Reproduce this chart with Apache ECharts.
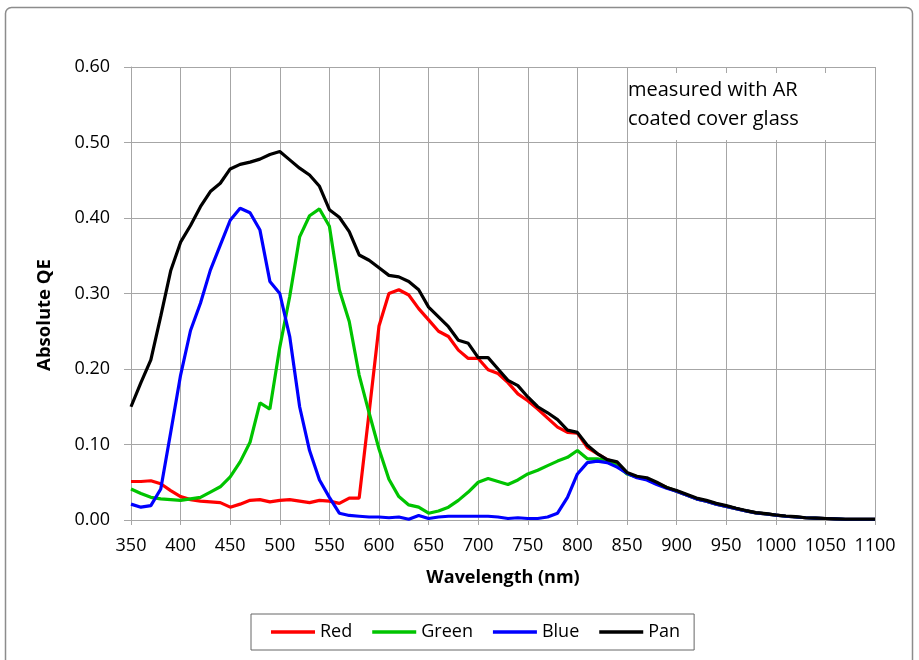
<!DOCTYPE html>
<html>
<head>
<meta charset="utf-8">
<script src="https://cdn.jsdelivr.net/npm/echarts@6/dist/echarts.min.js"></script>
<style>
  html, body { margin: 0; padding: 0; background: #fff; }
  #chart { width: 919px; height: 660px; }
</style>
</head>
<body>
<div id="chart"></div>
<script>
// wavelength in nm, 10 nm steps
const wavelengths = [];
for (let w = 350; w <= 1100; w += 10) wavelengths.push(w);

const red = [
  0.051, 0.051, 0.052, 0.048, 0.039, 0.031, 0.027, 0.025, 0.024, 0.023,
  0.017, 0.021, 0.026, 0.027, 0.024, 0.026, 0.027, 0.025, 0.023, 0.026,
  0.025, 0.022, 0.029, 0.029, 0.142, 0.257, 0.300, 0.305, 0.298, 0.280,
  0.265, 0.250, 0.243, 0.225, 0.214, 0.214, 0.199, 0.194, 0.182, 0.167,
  0.158, 0.147, 0.135, 0.123, 0.116, 0.115, 0.096, 0.088, 0.080, 0.075,
  0.062, 0.057, 0.054, 0.049, 0.043, 0.038, 0.033, 0.028, 0.025, 0.021,
  0.018, 0.015, 0.012, 0.0095, 0.008, 0.0065, 0.005, 0.004, 0.003, 0.0025,
  0.002, 0.0015, 0.001, 0.001, 0.001, 0.001
];
const green = [
  0.041, 0.035, 0.030, 0.028, 0.027, 0.026, 0.028, 0.030, 0.037, 0.044,
  0.057, 0.077, 0.103, 0.155, 0.147, 0.229, 0.296, 0.375, 0.403, 0.412,
  0.389, 0.305, 0.263, 0.192, 0.142, 0.094, 0.054, 0.031, 0.020, 0.017,
  0.009, 0.012, 0.017, 0.026, 0.037, 0.050, 0.055, 0.051, 0.047, 0.053,
  0.061, 0.066, 0.072, 0.078, 0.083, 0.092, 0.081, 0.081, 0.079, 0.072,
  0.061, 0.057, 0.054, 0.048, 0.043, 0.038, 0.033, 0.028, 0.025, 0.021,
  0.018, 0.015, 0.012, 0.0095, 0.008, 0.0065, 0.005, 0.004, 0.003, 0.0025,
  0.002, 0.0015, 0.001, 0.001, 0.001, 0.001
];
const blue = [
  0.021, 0.017, 0.019, 0.041, 0.116, 0.192, 0.251, 0.287, 0.331, 0.364,
  0.397, 0.413, 0.407, 0.384, 0.316, 0.300, 0.243, 0.150, 0.092, 0.053,
  0.030, 0.009, 0.006, 0.005, 0.004, 0.004, 0.003, 0.004, 0.001, 0.006,
  0.002, 0.004, 0.005, 0.005, 0.005, 0.005, 0.005, 0.004, 0.002, 0.003,
  0.002, 0.002, 0.004, 0.009, 0.030, 0.061, 0.076, 0.078, 0.076, 0.070,
  0.062, 0.056, 0.053, 0.047, 0.042, 0.038, 0.033, 0.028, 0.025, 0.021,
  0.018, 0.015, 0.012, 0.0095, 0.008, 0.0065, 0.005, 0.004, 0.003, 0.0025,
  0.002, 0.0015, 0.001, 0.001, 0.001, 0.001
];
const pan = [
  0.150, 0.182, 0.212, 0.270, 0.330, 0.368, 0.390, 0.415, 0.435, 0.446,
  0.465, 0.471, 0.474, 0.478, 0.484, 0.488, 0.477, 0.466, 0.457, 0.442,
  0.411, 0.401, 0.382, 0.351, 0.344, 0.334, 0.324, 0.322, 0.316, 0.305,
  0.282, 0.269, 0.256, 0.238, 0.234, 0.215, 0.215, 0.200, 0.185, 0.178,
  0.163, 0.150, 0.142, 0.133, 0.119, 0.116, 0.099, 0.088, 0.080, 0.077,
  0.063, 0.058, 0.056, 0.050, 0.043, 0.039, 0.034, 0.029, 0.026, 0.022,
  0.019, 0.0155, 0.0125, 0.0097, 0.0084, 0.0066, 0.0053, 0.0044, 0.003, 0.0025,
  0.002, 0.0015, 0.001, 0.001, 0.001, 0.001
];

const seriesNames = ["Red", "Green", "Blue", "Pan"];
const seriesColors = ["#ff0000", "#00c400", "#0000ff", "#000000"];
const seriesValues = [red, green, blue, pan];

const font = "'Open Sans', 'Noto Sans', sans-serif";
const gridColor = "#a6a6a6";

const chart = echarts.init(document.getElementById("chart"), null, { renderer: "canvas" });

chart.setOption({
  animation: false,
  textStyle: { fontFamily: font },
  graphic: [
    {
      type: "rect",
      shape: { x: 5.5, y: 7.5, width: 907, height: 680, r: 6 },
      style: { fill: "none", stroke: "#8c8c8c", lineWidth: 1.5 },
      z: -1
    },
    // white note box hides the grid behind the text, as in the original
    {
      type: "rect",
      shape: { x: 628, y: 73, width: 245, height: 67 },
      style: { fill: "#fff" },
      z: 10
    },
    {
      type: "text",
      left: 628,
      top: 76,
      z: 11,
      style: {
        text: "measured with AR\ncoated cover glass",
        font: "20px " + font,
        lineHeight: 29,
        fill: "#000"
      }
    },
    // y axis title sits a little below the axis middle in the original
    {
      type: "text",
      x: 45,
      y: 315,
      rotation: Math.PI / 2,
      z: 11,
      style: {
        text: "Absolute QE",
        font: "bold 18.5px " + font,
        fill: "#000",
        align: "center",
        verticalAlign: "middle"
      }
    }
  ],
  grid: { left: 131, right: 44, top: 67, bottom: 140 },
  legend: {
    data: seriesNames,
    left: 251,
    top: 614,
    itemWidth: 44,
    itemHeight: 3.5,
    itemGap: 20,
    icon: "rect",
    borderColor: "#666",
    borderWidth: 1,
    padding: [9, 14, 9, 20],
    textStyle: { fontFamily: font, fontSize: 18, color: "#000" }
  },
  xAxis: {
    type: "value",
    min: 350,
    max: 1100,
    interval: 50,
    name: "Wavelength (nm)",
    nameLocation: "middle",
    nameGap: 49,
    nameTextStyle: { fontFamily: font, fontSize: 18, fontWeight: "bold", color: "#000" },
    axisLine: { lineStyle: { color: gridColor } },
    axisTick: { show: true, length: 5, lineStyle: { color: gridColor } },
    axisLabel: {
      fontFamily: font, fontSize: 18, color: "#000", margin: 17,
      formatter: (v) => String(v)
    },
    splitLine: { show: true, lineStyle: { color: gridColor, width: 1 } }
  },
  yAxis: {
    type: "value",
    min: 0,
    max: 0.6,
    interval: 0.1,
    axisLine: { show: true, lineStyle: { color: gridColor } },
    axisTick: { show: true, length: 7, lineStyle: { color: gridColor } },
    axisLabel: {
      fontFamily: font, fontSize: 18, color: "#000", margin: 21,
      formatter: (v) => v.toFixed(2)
    },
    splitLine: { show: true, lineStyle: { color: gridColor, width: 1 } }
  },
  series: seriesNames.map((name, i) => ({
    name: name,
    type: "line",
    data: wavelengths.map((w, j) => [w, seriesValues[i][j]]),
    showSymbol: false,
    symbol: "none",
    color: seriesColors[i],
    lineStyle: { color: seriesColors[i], width: 3.2 },
    z: 2 + i
  }))
});
</script>
</body>
</html>
